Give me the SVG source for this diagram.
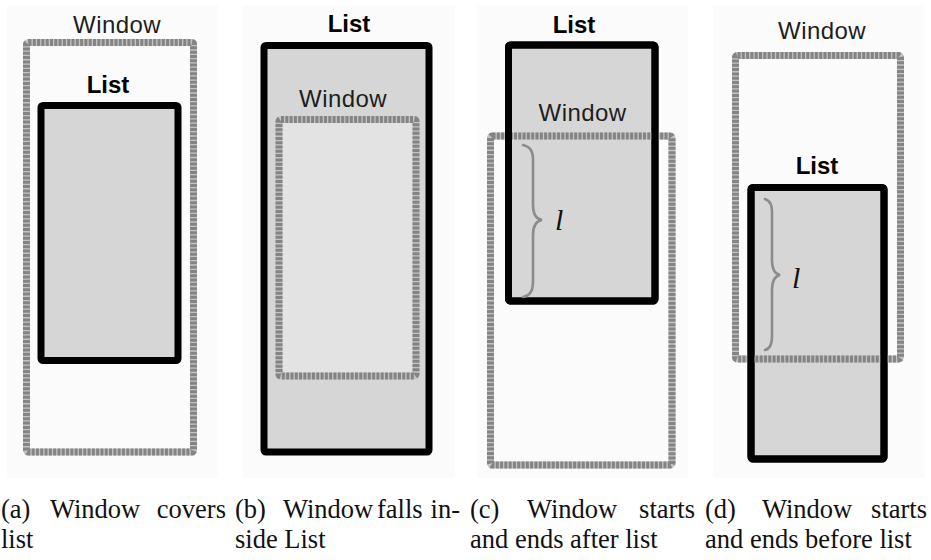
<svg xmlns="http://www.w3.org/2000/svg" width="931" height="560" viewBox="0 0 931 560">
  <style>
    .panel { fill: #fbfbfb; }
    .list { fill: #d6d6d6; stroke: #000; stroke-width: 7; stroke-linejoin: round; }
    .edge { fill: none; stroke: #000; stroke-width: 7; stroke-linejoin: round; }
    .win-base { fill: none; stroke: #c4c4c4; stroke-width: 7; stroke-linejoin: round; }
    .win-dash { fill: none; stroke: #848484; stroke-width: 7; stroke-dasharray: 3 1.3; }
    .lbl-win { font-family: "Liberation Sans", Arial, sans-serif; font-size: 24px; fill: #1e1e1e; text-anchor: middle; letter-spacing: 0.4px; }
    .lbl-list { font-family: "Liberation Sans", Arial, sans-serif; font-size: 24px; font-weight: bold; fill: #000; text-anchor: middle; }
    .brace { fill: none; stroke: #8c8c8c; stroke-width: 2.6; stroke-linecap: round; }
    .ell { font-family: "Liberation Serif", "Times New Roman", serif; font-style: italic; font-size: 30px; fill: #111; }
    .cap { font-family: "Liberation Serif", "Times New Roman", serif; font-size: 26.5px; fill: #111; }
    .end { text-anchor: end; }
  </style>

  <!-- panel backgrounds -->
  <rect class="panel" x="7" y="5" width="211" height="473"/>
  <rect class="panel" x="242" y="5" width="213" height="473"/>
  <rect class="panel" x="477" y="5" width="211" height="473"/>
  <rect class="panel" x="713" y="5" width="212" height="473"/>

  <!-- (a) window covers list -->
  <g id="panel-a">
    <g id="a-window">
      <rect class="win-base" x="26.5" y="42.5" width="167" height="409.5" rx="2"/>
      <rect class="win-dash" x="26.5" y="42.5" width="167" height="409.5" rx="2"/>
      <text class="lbl-win" x="117" y="33">Window</text>
    </g>
    <g id="a-list">
      <rect class="list" x="41" y="105.5" width="137" height="255" rx="2"/>
      <text class="lbl-list" x="108" y="93">List</text>
    </g>
  </g>

  <!-- (b) window inside list -->
  <g id="panel-b">
    <g id="b-list">
      <rect class="list" x="264" y="45.5" width="165" height="406.5" rx="2"/>
      <text class="lbl-list" x="349" y="32">List</text>
    </g>
    <g id="b-window">
      <rect x="279" y="119.5" width="137" height="256.5" fill="#e3e3e3"/>
      <rect class="win-base" x="279" y="119.5" width="137" height="256.5" rx="2"/>
      <rect class="win-dash" x="279" y="119.5" width="137" height="256.5" rx="2"/>
      <text class="lbl-win" x="343" y="107">Window</text>
    </g>
  </g>

  <!-- (c) window starts and ends after list -->
  <g id="panel-c">
    <g id="c-list">
      <rect class="list" x="508.5" y="45" width="146.5" height="256" rx="2"/>
      <text class="lbl-list" x="574" y="33">List</text>
    </g>
    <g id="c-window">
      <rect class="win-base" x="490.5" y="136" width="181.5" height="329" rx="2"/>
      <rect class="win-dash" x="490.5" y="136" width="181.5" height="329" rx="2"/>
      <text class="lbl-win" x="582.5" y="121">Window</text>
    </g>
    <!-- list border kept above the window outline -->
    <rect class="edge" x="508.5" y="45" width="146.5" height="256" rx="2"/>
    <g id="c-overlap">
      <path class="brace" d="M523,145 C531,147 533,152 533,160 L533,205 C533,214 536,219 542,220 C536,221 533,226 533,235 L533,282 C533,291 530,296 523,297"/>
      <text class="ell" x="555" y="230">l</text>
    </g>
  </g>

  <!-- (d) window starts and ends before list -->
  <g id="panel-d">
    <g id="d-list">
      <rect class="list" x="751" y="187.5" width="133" height="271.5" rx="2"/>
      <text class="lbl-list" x="817" y="174">List</text>
    </g>
    <g id="d-window">
      <rect class="win-base" x="735.5" y="55.5" width="165" height="303.5" rx="2"/>
      <rect class="win-dash" x="735.5" y="55.5" width="165" height="303.5" rx="2"/>
      <text class="lbl-win" x="822" y="39">Window</text>
    </g>
    <!-- list border kept above the window outline -->
    <rect class="edge" x="751" y="187.5" width="133" height="271.5" rx="2"/>
    <g id="d-overlap">
      <path class="brace" d="M765,199 C771,201 772,206 772,214 L772,260 C772,269 775,274 780,275 C775,276 772,281 772,290 L772,336 C772,344 770,349 765,350"/>
      <text class="ell" x="792" y="288">l</text>
    </g>
  </g>

  <!-- sub-captions -->
  <g id="captions">
    <text class="cap" x="1" y="518">(a)</text>
    <text class="cap" x="50" y="518">Window</text>
    <text class="cap end" x="226" y="518">covers</text>
    <text class="cap" x="1" y="548">list</text>

    <text class="cap" x="235" y="518">(b)</text>
    <text class="cap" x="283" y="518">Window</text>
    <text class="cap" x="377" y="518">falls</text>
    <text class="cap end" x="460" y="518">in-</text>
    <text class="cap" x="235" y="548">side List</text>

    <text class="cap" x="470" y="518">(c)</text>
    <text class="cap" x="527" y="518">Window</text>
    <text class="cap end" x="695" y="518">starts</text>
    <text class="cap" x="470" y="548">and ends after list</text>

    <text class="cap" x="705" y="518">(d)</text>
    <text class="cap" x="762" y="518">Window</text>
    <text class="cap end" x="927" y="518">starts</text>
    <text class="cap" x="705" y="548">and ends before list</text>
  </g>
</svg>
